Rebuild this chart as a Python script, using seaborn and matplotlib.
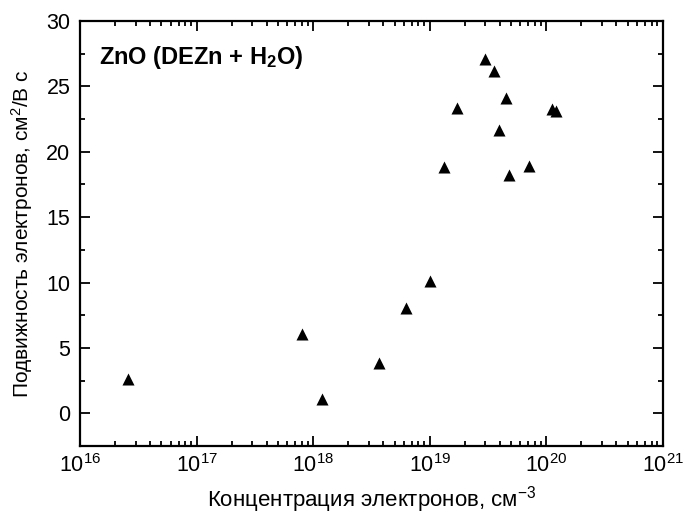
import matplotlib
matplotlib.use("Agg")
from matplotlib import pyplot as plt
from matplotlib.ticker import MultipleLocator, LogLocator, NullFormatter
import seaborn as sns
import pandas as pd

# concentration (cm^-3) and mobility (cm^2/V s)
concentration = [2.56e16, 7.96e17, 1.20e18, 3.69e18, 6.25e18, 1.00e19,
                 1.32e19, 1.71e19, 2.99e19, 3.57e19, 3.95e19, 4.48e19,
                 4.82e19, 7.05e19, 1.13e20, 1.22e20]
mobility = [2.65, 6.04, 1.07, 3.85, 8.06, 10.1,
            18.85, 23.34, 27.08, 26.17, 21.7, 24.12,
            18.23, 18.92, 23.28, 23.1]

df = pd.DataFrame({'n': concentration, 'mu': mobility})

sns.set_style("ticks")
plt.rcParams['font.family'] = ['Liberation Sans', 'DejaVu Sans']
plt.rcParams['mathtext.fontset'] = 'custom'
plt.rcParams['mathtext.rm'] = 'Liberation Sans'
plt.rcParams['mathtext.it'] = 'Liberation Sans:italic'
plt.rcParams['mathtext.bf'] = 'Liberation Sans:bold'
plt.rcParams['text.color'] = 'black'
plt.rcParams['axes.labelcolor'] = 'black'
plt.rcParams['xtick.color'] = 'black'
plt.rcParams['ytick.color'] = 'black'

fig = plt.figure(figsize=(6.84, 5.23), dpi=100)
ax = fig.add_axes([0.117, 0.147, 0.852, 0.813])

sns.scatterplot(data=df, x='n', y='mu', marker='^', color='black',
                s=75, linewidth=0, ax=ax)

ax.set_xscale('log')
ax.set_xlim(1e16, 1e21)
ax.set_ylim(-2.5, 30)
ax.yaxis.set_major_locator(MultipleLocator(5))
ax.yaxis.set_minor_locator(MultipleLocator(2.5))
ax.xaxis.set_major_locator(LogLocator(base=10, numticks=10))
ax.xaxis.set_minor_locator(LogLocator(base=10, subs=range(2, 10), numticks=20))
ax.xaxis.set_minor_formatter(NullFormatter())

ax.tick_params(which='both', direction='in', top=True, right=True,
               width=1.3, labelsize=15.5, labelcolor='black')
ax.tick_params(which='major', length=7)
ax.tick_params(which='minor', length=3.5)
ax.tick_params(axis='x', which='major', pad=6)
ax.tick_params(axis='y', which='major', pad=7)

for sp in ax.spines.values():
    sp.set_visible(True)
    sp.set_linewidth(1.6)
    sp.set_color('black')

ax.set_xlabel('Концентрация электронов, см$^{-3}$', fontsize=16, labelpad=5)
ax.set_ylabel('Подвижность электронов, см$^2$/В с', fontsize=15, labelpad=8)

ax.text(0.033, 0.915, r'ZnO (DEZn + H$_\mathbf{2}$O)', transform=ax.transAxes,
        fontsize=17, fontweight='bold', va='center', ha='left')

fig.savefig('out.png', dpi=100)
plt.close()
